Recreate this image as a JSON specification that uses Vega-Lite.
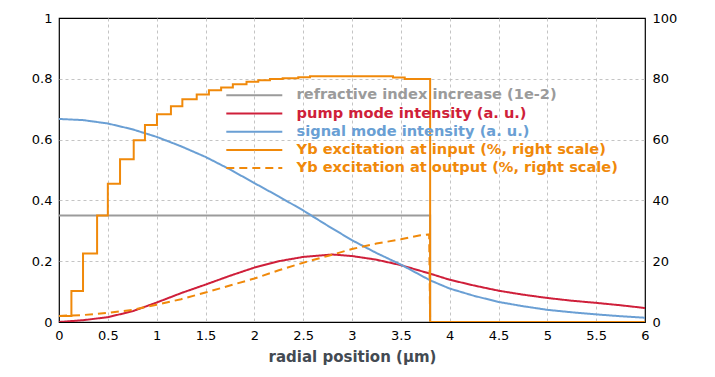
{
  "$schema": "https://vega.github.io/schema/vega-lite/v6.json",
  "width": 586,
  "height": 304,
  "autosize": {"type": "none"},
  "padding": {"left": 59, "top": 18, "right": 70, "bottom": 55},
  "background": "white",
  "config": {
    "view": {"stroke": "black", "strokeWidth": 1.2},
    "font": "DejaVu Sans",
    "axis": {
      "labelFont": "DejaVu Sans",
      "labelFontSize": 13,
      "labelColor": "#000000",
      "ticks": false,
      "domain": false,
      "gridColor": "#c4c4c4",
      "gridDash": [3, 3],
      "gridWidth": 1,
      "labelPadding": 7,
      "format": "~g"
    }
  },
  "datasets": {
    "left": [
      {"x": 0, "v": 0.35, "s": "refractive index increase (1e-2)"},
      {"x": 3.8, "v": 0.35, "s": "refractive index increase (1e-2)"},
      {"x": 3.8, "v": 0, "s": "refractive index increase (1e-2)"},
      {"x": 6, "v": 0, "s": "refractive index increase (1e-2)"},

      {"x": 0, "v": 0.0, "s": "pump mode intensity (a. u.)"},
      {"x": 0.25, "v": 0.006, "s": "pump mode intensity (a. u.)"},
      {"x": 0.5, "v": 0.016, "s": "pump mode intensity (a. u.)"},
      {"x": 0.75, "v": 0.035, "s": "pump mode intensity (a. u.)"},
      {"x": 1.0, "v": 0.064, "s": "pump mode intensity (a. u.)"},
      {"x": 1.25, "v": 0.095, "s": "pump mode intensity (a. u.)"},
      {"x": 1.5, "v": 0.123, "s": "pump mode intensity (a. u.)"},
      {"x": 1.75, "v": 0.152, "s": "pump mode intensity (a. u.)"},
      {"x": 2.0, "v": 0.179, "s": "pump mode intensity (a. u.)"},
      {"x": 2.25, "v": 0.2, "s": "pump mode intensity (a. u.)"},
      {"x": 2.5, "v": 0.214, "s": "pump mode intensity (a. u.)"},
      {"x": 2.8, "v": 0.222, "s": "pump mode intensity (a. u.)"},
      {"x": 3.0, "v": 0.217, "s": "pump mode intensity (a. u.)"},
      {"x": 3.25, "v": 0.205, "s": "pump mode intensity (a. u.)"},
      {"x": 3.5, "v": 0.187, "s": "pump mode intensity (a. u.)"},
      {"x": 3.8, "v": 0.159, "s": "pump mode intensity (a. u.)"},
      {"x": 4.0, "v": 0.139, "s": "pump mode intensity (a. u.)"},
      {"x": 4.25, "v": 0.12, "s": "pump mode intensity (a. u.)"},
      {"x": 4.5, "v": 0.103, "s": "pump mode intensity (a. u.)"},
      {"x": 4.75, "v": 0.09, "s": "pump mode intensity (a. u.)"},
      {"x": 5.0, "v": 0.079, "s": "pump mode intensity (a. u.)"},
      {"x": 5.25, "v": 0.07, "s": "pump mode intensity (a. u.)"},
      {"x": 5.5, "v": 0.063, "s": "pump mode intensity (a. u.)"},
      {"x": 5.75, "v": 0.055, "s": "pump mode intensity (a. u.)"},
      {"x": 6.0, "v": 0.046, "s": "pump mode intensity (a. u.)"},

      {"x": 0, "v": 0.668, "s": "signal mode intensity (a. u.)"},
      {"x": 0.25, "v": 0.664, "s": "signal mode intensity (a. u.)"},
      {"x": 0.5, "v": 0.653, "s": "signal mode intensity (a. u.)"},
      {"x": 0.75, "v": 0.634, "s": "signal mode intensity (a. u.)"},
      {"x": 1.0, "v": 0.609, "s": "signal mode intensity (a. u.)"},
      {"x": 1.25, "v": 0.578, "s": "signal mode intensity (a. u.)"},
      {"x": 1.5, "v": 0.543, "s": "signal mode intensity (a. u.)"},
      {"x": 1.75, "v": 0.502, "s": "signal mode intensity (a. u.)"},
      {"x": 2.0, "v": 0.457, "s": "signal mode intensity (a. u.)"},
      {"x": 2.25, "v": 0.413, "s": "signal mode intensity (a. u.)"},
      {"x": 2.5, "v": 0.367, "s": "signal mode intensity (a. u.)"},
      {"x": 2.75, "v": 0.317, "s": "signal mode intensity (a. u.)"},
      {"x": 3.0, "v": 0.269, "s": "signal mode intensity (a. u.)"},
      {"x": 3.25, "v": 0.227, "s": "signal mode intensity (a. u.)"},
      {"x": 3.5, "v": 0.189, "s": "signal mode intensity (a. u.)"},
      {"x": 3.65, "v": 0.163, "s": "signal mode intensity (a. u.)"},
      {"x": 3.8, "v": 0.137, "s": "signal mode intensity (a. u.)"},
      {"x": 4.0, "v": 0.11, "s": "signal mode intensity (a. u.)"},
      {"x": 4.25, "v": 0.086, "s": "signal mode intensity (a. u.)"},
      {"x": 4.5, "v": 0.066, "s": "signal mode intensity (a. u.)"},
      {"x": 4.75, "v": 0.052, "s": "signal mode intensity (a. u.)"},
      {"x": 5.0, "v": 0.04, "s": "signal mode intensity (a. u.)"},
      {"x": 5.25, "v": 0.032, "s": "signal mode intensity (a. u.)"},
      {"x": 5.5, "v": 0.025, "s": "signal mode intensity (a. u.)"},
      {"x": 5.75, "v": 0.019, "s": "signal mode intensity (a. u.)"},
      {"x": 6.0, "v": 0.014, "s": "signal mode intensity (a. u.)"}
    ],
    "right": [
      {"x": 0, "v": 2, "s": "Yb excitation at input (%, right scale)"},
      {"x": 0.127, "v": 10.2, "s": "Yb excitation at input (%, right scale)"},
      {"x": 0.246, "v": 22.5, "s": "Yb excitation at input (%, right scale)"},
      {"x": 0.39, "v": 35, "s": "Yb excitation at input (%, right scale)"},
      {"x": 0.5, "v": 45.5, "s": "Yb excitation at input (%, right scale)"},
      {"x": 0.625, "v": 53.5, "s": "Yb excitation at input (%, right scale)"},
      {"x": 0.765, "v": 59.8, "s": "Yb excitation at input (%, right scale)"},
      {"x": 0.88, "v": 64.8, "s": "Yb excitation at input (%, right scale)"},
      {"x": 1.003, "v": 68.3, "s": "Yb excitation at input (%, right scale)"},
      {"x": 1.146, "v": 71, "s": "Yb excitation at input (%, right scale)"},
      {"x": 1.263, "v": 73.3, "s": "Yb excitation at input (%, right scale)"},
      {"x": 1.41, "v": 74.8, "s": "Yb excitation at input (%, right scale)"},
      {"x": 1.535, "v": 76.2, "s": "Yb excitation at input (%, right scale)"},
      {"x": 1.66, "v": 77.1, "s": "Yb excitation at input (%, right scale)"},
      {"x": 1.78, "v": 78.2, "s": "Yb excitation at input (%, right scale)"},
      {"x": 1.92, "v": 79, "s": "Yb excitation at input (%, right scale)"},
      {"x": 2.04, "v": 79.5, "s": "Yb excitation at input (%, right scale)"},
      {"x": 2.16, "v": 79.9, "s": "Yb excitation at input (%, right scale)"},
      {"x": 2.29, "v": 80.2, "s": "Yb excitation at input (%, right scale)"},
      {"x": 2.45, "v": 80.5, "s": "Yb excitation at input (%, right scale)"},
      {"x": 2.57, "v": 80.8, "s": "Yb excitation at input (%, right scale)"},
      {"x": 3.42, "v": 80.4, "s": "Yb excitation at input (%, right scale)"},
      {"x": 3.54, "v": 79.9, "s": "Yb excitation at input (%, right scale)"},
      {"x": 3.8, "v": 0, "s": "Yb excitation at input (%, right scale)"},
      {"x": 6, "v": 0, "s": "Yb excitation at input (%, right scale)"}
    ],
    "rightOut": [
      {"x": 0, "v": 2.0, "s": "Yb excitation at output (%, right scale)"},
      {"x": 0.25, "v": 2.3, "s": "Yb excitation at output (%, right scale)"},
      {"x": 0.5, "v": 3.0, "s": "Yb excitation at output (%, right scale)"},
      {"x": 0.75, "v": 4.0, "s": "Yb excitation at output (%, right scale)"},
      {"x": 1.0, "v": 5.7, "s": "Yb excitation at output (%, right scale)"},
      {"x": 1.25, "v": 7.5, "s": "Yb excitation at output (%, right scale)"},
      {"x": 1.5, "v": 9.7, "s": "Yb excitation at output (%, right scale)"},
      {"x": 1.75, "v": 12.0, "s": "Yb excitation at output (%, right scale)"},
      {"x": 2.0, "v": 14.3, "s": "Yb excitation at output (%, right scale)"},
      {"x": 2.25, "v": 17.0, "s": "Yb excitation at output (%, right scale)"},
      {"x": 2.5, "v": 19.5, "s": "Yb excitation at output (%, right scale)"},
      {"x": 2.75, "v": 21.7, "s": "Yb excitation at output (%, right scale)"},
      {"x": 3.0, "v": 24.0, "s": "Yb excitation at output (%, right scale)"},
      {"x": 3.25, "v": 25.8, "s": "Yb excitation at output (%, right scale)"},
      {"x": 3.5, "v": 27.2, "s": "Yb excitation at output (%, right scale)"},
      {"x": 3.7, "v": 28.5, "s": "Yb excitation at output (%, right scale)"},
      {"x": 3.79, "v": 28.8, "s": "Yb excitation at output (%, right scale)"},
      {"x": 3.8, "v": 0, "s": "Yb excitation at output (%, right scale)"},
      {"x": 6, "v": 0, "s": "Yb excitation at output (%, right scale)"}
    ]
  },
  "encoding": {
    "x": {
      "field": "x",
      "type": "quantitative",
      "scale": {"domain": [0, 6], "nice": false, "zero": false},
      "axis": {
        "values": [0, 0.5, 1, 1.5, 2, 2.5, 3, 3.5, 4, 4.5, 5, 5.5, 6],
        "title": "radial position (µm)",
        "titleFont": "DejaVu Sans",
        "titleFontSize": 15,
        "titleFontWeight": "bold",
        "titleColor": "#434a52",
        "titlePadding": 7,
        "labelFlush": false,
        "gridOpacity": {"condition": {"test": "datum.value == 0 || datum.value == 6", "value": 0}, "value": 1}
      }
    },
    "color": {
      "field": "s",
      "type": "nominal",
      "scale": {
        "domain": [
          "refractive index increase (1e-2)",
          "pump mode intensity (a. u.)",
          "signal mode intensity (a. u.)",
          "Yb excitation at input (%, right scale)",
          "Yb excitation at output (%, right scale)"
        ],
        "range": ["#9b9b9b", "#cf1f3a", "#6a9fd4", "#f0890a", "#f0890a"]
      },
      "legend": {
        "title": null,
        "orient": "none",
        "legendX": 188,
        "legendY": 70,
        "symbolType": "M-5.6,0H5.6",
        "symbolSize": 100,
        "symbolStrokeWidth": 2,
        "rowPadding": 3.2,
        "labelFont": "DejaVu Sans",
        "labelFontSize": 14.6,
        "labelFontWeight": "bold",
        "labelOffset": 35,
        "labelLimit": 400,
        "encode": {
          "labels": {"update": {"fill": {"scale": "color", "field": "value"}}}
        }
      }
    },
    "strokeDash": {
      "field": "s",
      "type": "nominal",
      "scale": {
        "domain": [
          "refractive index increase (1e-2)",
          "pump mode intensity (a. u.)",
          "signal mode intensity (a. u.)",
          "Yb excitation at input (%, right scale)",
          "Yb excitation at output (%, right scale)"
        ],
        "range": [[1, 0], [1, 0], [1, 0], [1, 0], [8, 5]]
      },
      "legend": null
    }
  },
  "layer": [
    {
      "data": {"name": "left"},
      "encoding": {
        "y": {
          "field": "v",
          "type": "quantitative",
          "scale": {"domain": [0, 1], "nice": false},
          "axis": {
            "orient": "left",
            "values": [0, 0.2, 0.4, 0.6, 0.8, 1],
            "title": null,
            "labelFlush": false,
            "gridOpacity": {"condition": {"test": "datum.value == 0 || datum.value == 1", "value": 0}, "value": 1}
          }
        }
      },
      "layer": [
        {"mark": {"type": "line", "strokeWidth": 2, "clip": true}}
      ]
    },
    {
      "encoding": {
        "y": {
          "field": "v",
          "type": "quantitative",
          "scale": {"domain": [0, 100], "nice": false},
          "axis": {"orient": "right", "values": [0, 20, 40, 60, 80, 100], "title": null, "grid": false, "labelFlush": false, "format": "d"}
        }
      },
      "layer": [
        {"data": {"name": "rightOut"}, "mark": {"type": "line", "strokeWidth": 2, "clip": true}},
        {"data": {"name": "right"}, "mark": {"type": "line", "strokeWidth": 2, "interpolate": "step-after", "clip": true}}
      ]
    }
  ],
  "resolve": {"scale": {"y": "independent"}}
}
